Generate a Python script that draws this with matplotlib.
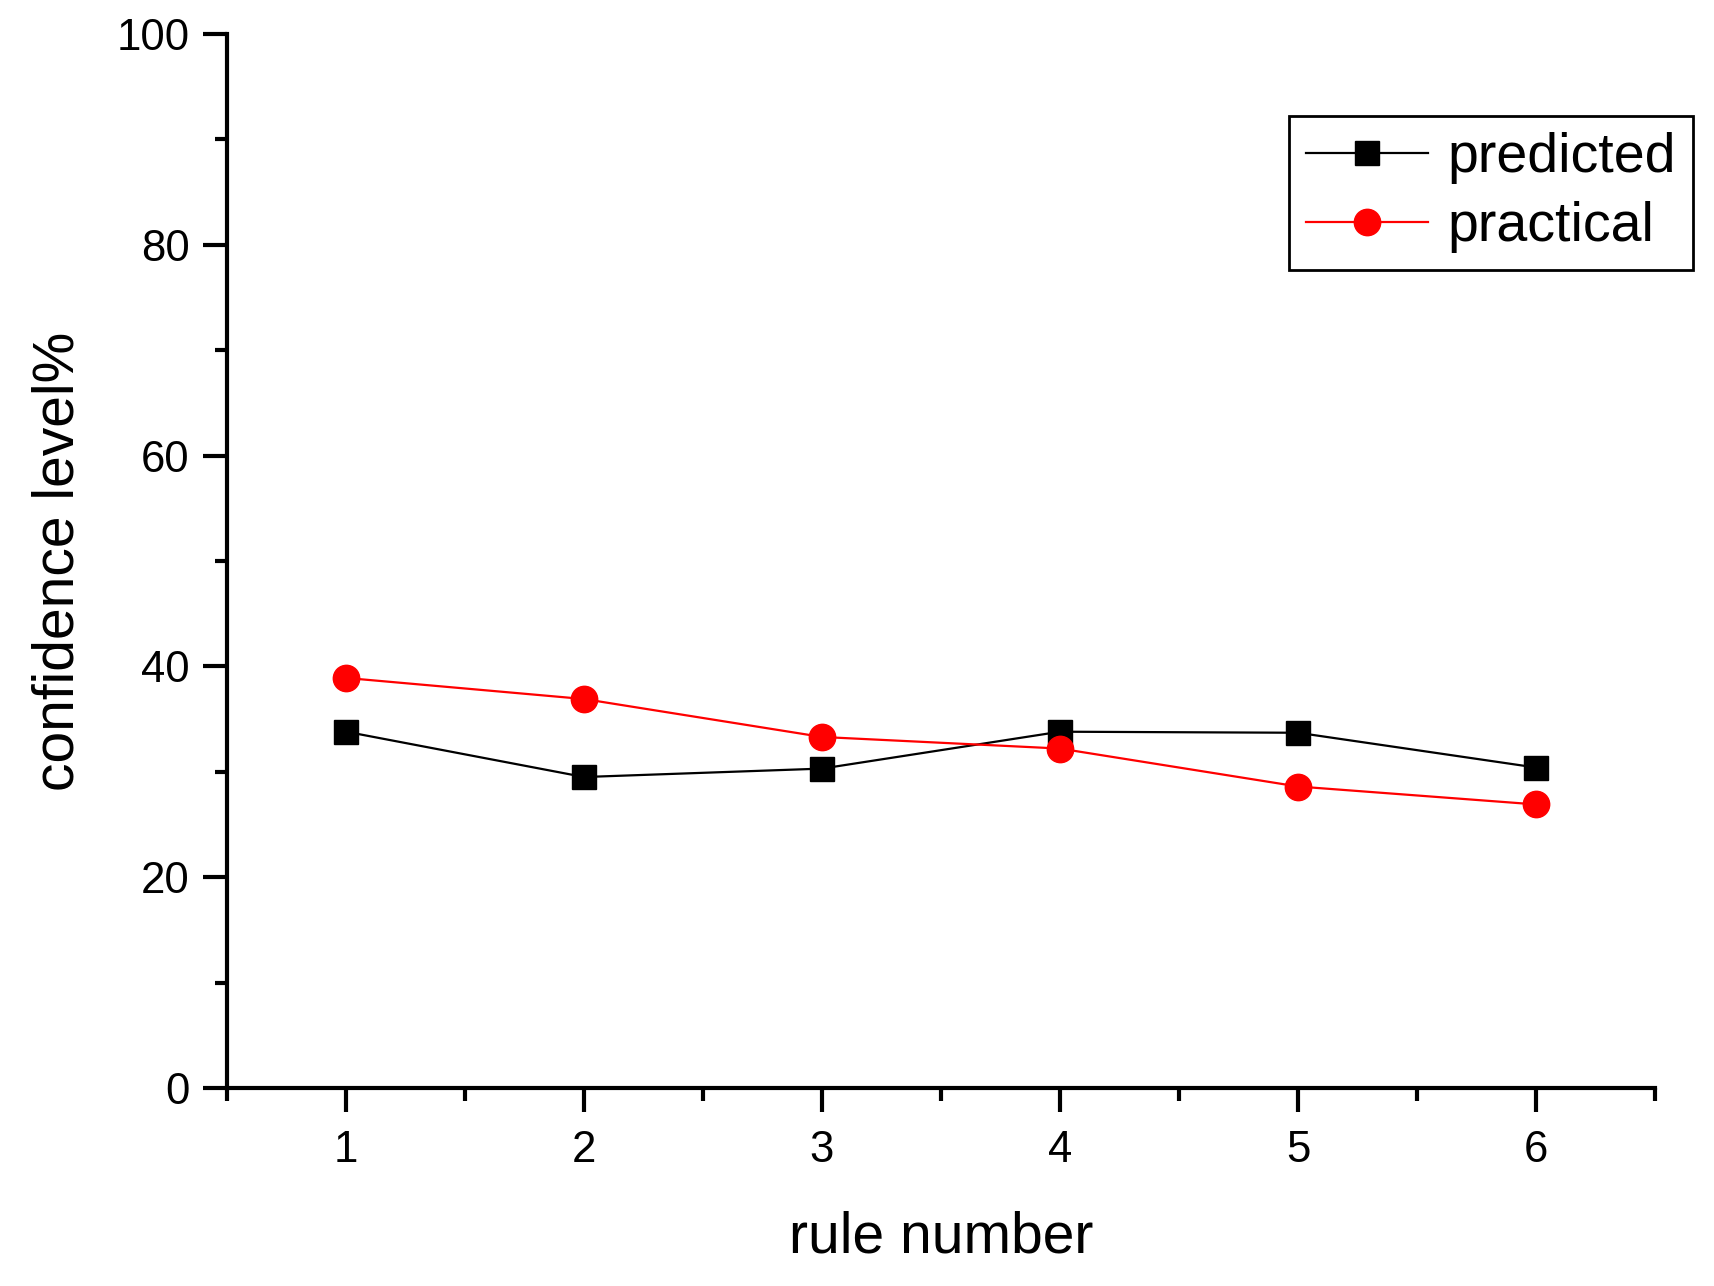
import numpy as np
import matplotlib
matplotlib.use("Agg")
import matplotlib.pyplot as plt
from matplotlib.ticker import MultipleLocator

plt.rcParams['font.family'] = ['Liberation Sans', 'DejaVu Sans']

rule = [1, 2, 3, 4, 5, 6]
predicted = [33.8, 29.5, 30.3, 33.8, 33.7, 30.4]
practical = [38.9, 36.9, 33.3, 32.2, 28.6, 26.9]

fig = plt.figure(figsize=(17.15, 12.86), dpi=100)
ax = fig.add_axes([0.1324, 0.154, 0.965 - 0.1324, 0.9736 - 0.154])

ax.plot(rule, predicted, color='black', lw=1.6, marker='s', ms=17,
        label='predicted')
ax.plot(rule, practical, color='red', lw=1.6, marker='o', ms=19,
        label='practical')

ax.set_xlim(0.5, 6.5)
ax.set_ylim(0, 100)
ax.xaxis.set_major_locator(MultipleLocator(1))
ax.xaxis.set_minor_locator(MultipleLocator(0.5))
ax.yaxis.set_major_locator(MultipleLocator(20))
ax.yaxis.set_minor_locator(MultipleLocator(10))

for s in ['top', 'right']:
    ax.spines[s].set_visible(False)
for s in ['left', 'bottom']:
    ax.spines[s].set_linewidth(3)

ax.tick_params(which='major', direction='out', length=17, width=3,
               labelsize=31.5)
ax.tick_params(which='minor', direction='out', length=9, width=3)
ax.tick_params(axis='x', which='major', pad=13)
ax.tick_params(axis='y', which='major', pad=10)

ax.set_xlabel('rule number', fontsize=41, labelpad=29)
ax.set_ylabel('confidence level%', fontsize=41, labelpad=22)

leg = ax.legend(loc='upper right', bbox_to_anchor=(0.987, 0.91),
                bbox_transform=fig.transFigure, fontsize=40,
                fancybox=False, edgecolor='black', framealpha=1,
                handlelength=2.2, handletextpad=0.35, borderpad=0.3,
                labelspacing=0.3, borderaxespad=0)
leg.get_frame().set_linewidth(2)

fig.savefig('out.png', dpi=100)
